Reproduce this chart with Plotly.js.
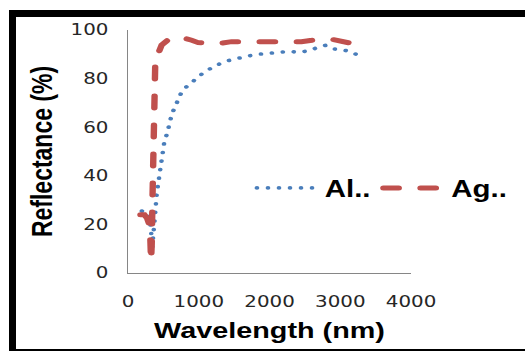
<!DOCTYPE html>
<html>
<head>
<meta charset="utf-8">
<script src="https://cdn.plot.ly/plotly-3.0.1.min.js"></script>
<style>
  html, body { margin: 0; padding: 0; background: #fff; overflow: hidden; width: 525px; height: 351px; }
  #plot { position: absolute; left: 0; top: 0; width: 410px; height: 351px; transform: scaleX(1.2805); transform-origin: 0 0; }
  #frame { position: absolute; left: 9px; top: 10px; width: 600px; height: 346px; border: 7px solid #000; box-sizing: border-box; pointer-events: none; z-index: 10; }
  .scatterlayer .js-line, .legendlines path { stroke-linecap: round; }
</style>
</head>
<body>
<div id="plot"></div>
<div id="frame"></div>
<script>
// Al (blue, dotted)
const alWavelength = [195, 250, 300, 325, 340, 350, 362, 385, 405, 428, 442, 461, 485, 513, 561, 593, 640, 702, 758, 829, 946, 1055, 1168, 1290, 1417, 1556, 1697, 1838, 1979, 2121, 2276, 2417, 2558, 2671, 2794, 2906, 3038, 3156, 3217];
const alReflectance = [25.5, 25, 24, 18, 10, 15, 21, 25, 32.6, 37, 41, 45.5, 49.6, 54, 58.2, 62.6, 66.8, 71.2, 74.6, 76.7, 79.4, 82.2, 84.2, 86, 87.4, 88.4, 89.3, 90, 90.4, 91, 91.2, 90.8, 91.5, 92.7, 93.7, 92.2, 91.8, 91, 90.1];

// Ag (red, dashed)
const agWavelength = [175, 230, 270, 300, 315, 325, 335, 345, 352, 358, 368, 385, 405, 428, 475, 546, 593, 724, 828, 900, 992, 1251, 1463, 1745, 1957, 2215, 2451, 2600, 2709, 2874, 3061, 3160, 3249];
const agReflectance = [24, 24, 22.5, 20, 14, 5, 12, 30, 50, 70, 82, 87, 90, 90.4, 93.8, 95.6, 96.6, 97.2, 96.6, 95.8, 94.8, 94.3, 95.2, 95.2, 95.6, 95.6, 95.2, 95.8, 96.3, 96.2, 95.2, 94.5, 93.4];

const seriesNames = ["Al..", "Ag.."];
const xTicks = [0, 1000, 2000, 3000, 4000];
const yTicks = [0, 20, 40, 60, 80, 100];

const traces = [
  {
    x: alWavelength, y: alReflectance, name: seriesNames[0],
    type: "scatter", mode: "lines",
    line: { color: "#4a7ebb", width: 3.6, dash: "0.1px,8.5px" }
  },
  {
    x: agWavelength, y: agReflectance, name: seriesNames[1],
    type: "scatter", mode: "lines",
    line: { color: "#c0504d", width: 5, dash: "12px,17px" }
  }
];

const tickFont = { family: "DejaVu Sans, Verdana, sans-serif", size: 15.5, color: "#262626" };
const titleFont = { family: "Liberation Sans, Arial, sans-serif", size: 22.5, color: "#000", weight: 700 };

const layout = {
  width: 410, height: 351,
  margin: { l: 100, r: 88.6, t: 30, b: 77.7, autoexpand: false },
  paper_bgcolor: "#fff", plot_bgcolor: "#fff",
  showlegend: true,
  legend: {
    orientation: "h", x: 0.4327, xanchor: "left", y: 0.35, yanchor: "middle",
    font: { family: "Liberation Sans, Arial, sans-serif", size: 23, color: "#000", weight: 700 },
    itemwidth: 48,
    bgcolor: "rgba(0,0,0,0)", borderwidth: 0
  },
  xaxis: {
    range: [0, 4000], tickvals: xTicks, ticktext: xTicks.map(String),
    showgrid: false, zeroline: false, showline: true, linecolor: "#868686", linewidth: 1.2,
    ticks: "", tickfont: tickFont, ticklabelstandoff: 14,
    title: { text: "Wavelength (nm)", font: titleFont, standoff: 12 }
  },
  yaxis: {
    range: [0, 100], tickvals: yTicks, ticktext: yTicks.map(String),
    showgrid: false, zeroline: false, showline: true, linecolor: "#868686", linewidth: 1.2,
    ticks: "", tickfont: tickFont, ticklabelstandoff: 11,
    title: { text: "Reflectance (%)", font: { ...titleFont, size: 23 }, standoff: 7 }
  }
};

Plotly.newPlot("plot", traces, layout, { displayModeBar: false, staticPlot: true });
</script>
</body>
</html>
